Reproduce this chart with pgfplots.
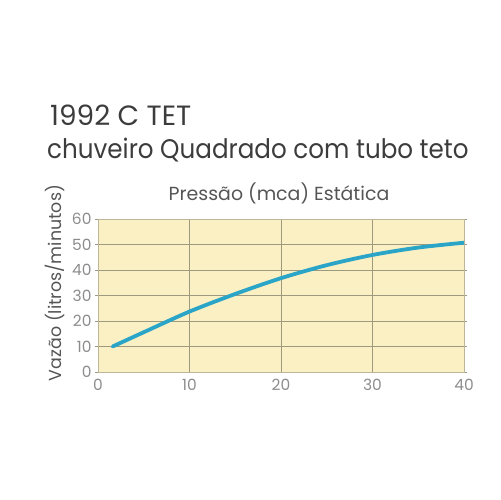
\documentclass[border=0pt]{standalone}
\usepackage{pgfplots}
\pgfplotsset{compat=1.18}
\usepackage{fontspec}
\setmainfont{Poppins}
\definecolor{papel}{HTML}{FAF0C4}
\definecolor{grade}{HTML}{9E9A80}
\definecolor{borda}{HTML}{BDB69A}
\definecolor{curva}{HTML}{2AA5C8}
\definecolor{titulo}{HTML}{3C3C3C}
\definecolor{rotulo}{HTML}{555555}
\definecolor{numeros}{HTML}{8C8C8C}
\begin{document}
\begin{tikzpicture}[x=1bp,y=1bp]
\useasboundingbox (-98,-128) rectangle (402,372);
\begin{axis}[
    at={(0,0)}, anchor=south west,
    scale only axis,
    width=366bp, height=153bp,
    xmin=0, xmax=40, ymin=0, ymax=60,
    xtick={0,10,...,40},
    ytick={0,10,...,60},
    grid=major,
    major grid style={draw=grade, line width=0.7pt},
    axis line style={draw=borda, line width=0.6pt},
    tick style={draw=grade, line width=0.6pt},
    tick align=outside,
    major tick length=3bp,
    xtick style={draw=none},
    axis background/.style={fill=papel},
    /pgf/number format/assume math mode=true,
    ticklabel style={font=\fontsize{15.5}{15.5}\selectfont, text=numeros},
    xticklabel style={yshift=-1bp},
  ]
  \addplot[curva, line width=3.8bp, smooth, line cap=round] coordinates {
    (1.6,10.0) (5,15.6) (10,23.7) (15,30.6) (20,36.8)
    (25,41.9) (30,45.9) (35,48.8) (40,50.7)
  };
\end{axis}
\node[anchor=base west, inner sep=0, text=titulo, font=\fontsize{28}{28}\selectfont] at (-48,246) {1992 C TET};
\node[anchor=base west, inner sep=0, text=titulo, font=\fontsize{27}{27}\selectfont] at (-51,213) {\scalebox{0.915}[1]{chuveiro Quadrado com tubo teto}};
\node[anchor=base, inner sep=0, text=rotulo, font=\fontsize{19}{19}\selectfont] at (181,171) {Pressão (mca) Estática};
\node[anchor=base, rotate=90, inner sep=0, text=rotulo, font=\fontsize{17.5}{17.5}\selectfont] at (-37,89) {Vazão (litros/minutos)};
\end{tikzpicture}
\end{document}
